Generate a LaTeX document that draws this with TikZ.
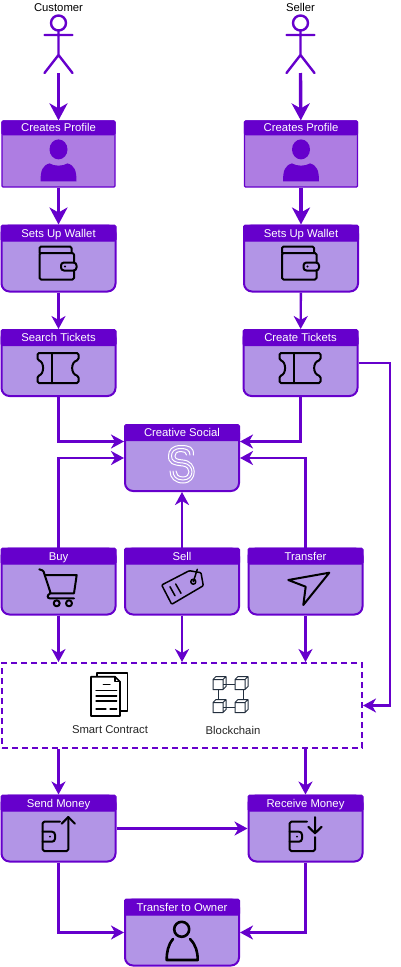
\documentclass[tikz,border=0pt]{standalone}
\usepackage{fontspec}
\setmainfont{Liberation Sans}
\usetikzlibrary{arrows.meta}
\definecolor{flowpurple}{HTML}{6600CC}
\definecolor{cardfill}{HTML}{B295E6}
\definecolor{profilefill}{HTML}{AE7DE2}
\definecolor{cubeline}{HTML}{232F3E}
\tikzset{
  label text/.style={font=\fontsize{11.3}{13}\selectfont},
  cardbox/.style={draw=flowpurple, fill=cardfill, line width=2pt, rounded corners=8pt, minimum width=114pt, minimum height=66pt, inner sep=0pt},
  profilebox/.style={draw=flowpurple, fill=profilefill, line width=1.2pt, rounded corners=1pt, minimum width=113pt, minimum height=66pt, inner sep=0pt},
  cardhead/.style={draw=flowpurple, fill=flowpurple, text=white, line width=1pt, rounded corners=1.5pt, minimum width=115pt, minimum height=16pt, inner sep=0pt, text height=8.5pt, text depth=.5pt, anchor=north, label text},
  profilehead/.style={cardhead, minimum width=113.2pt, minimum height=14pt},
  flow/.style={draw=flowpurple, line width=2.4pt, -{Stealth[length=13pt,width=14pt,inset=4pt]}},
  bigflow/.style={draw=flowpurple, line width=3.4pt, -{Stealth[length=17pt,width=18pt,inset=5pt]}},
  icon/.style={draw=black, line width=2pt, line join=round, line cap=round},
  personicon/.pic={
    \fill[flowpurple] (0,29) ellipse (9 and 10);
    \fill[flowpurple] (-18,61) .. controls (-18,50) and (-16,45) .. (-9,43) .. controls (-4,46) and (4,46) .. (9,43) .. controls (16,45) and (18,50) .. (18,61) -- cycle;
  },
  walleticon/.pic={
    \draw[icon, rounded corners=1.5pt] (15.5,38) -- (15.5,28.5) -- (-19,28.5) -- (-19,55) -- (15.5,55) -- (15.5,46);
    \draw[icon, rounded corners=1.5pt] (-19,28.5) -- (-19,22) -- (13,22) -- (13,28.5);
    \draw[icon, rounded corners=3pt] (2.5,38) rectangle (18,46);
    \fill (6.5,42) circle (1.2);
  },
  ticketicon/.pic={
    \draw[icon, rounded corners=1.5pt] (-21,24) -- (20,24) -- (20,31) .. controls (12,33) and (12,45) .. (20,47) -- (20,54) -- (-21,54) -- (-21,47) .. controls (-14,45) and (-14,33) .. (-21,31) -- cycle;
    \draw[icon] (-7,24) -- (-7,54);
  },
  actoricon/.pic={
    \draw[flowpurple, line width=2.4pt, line cap=round] (0,30.5) -- (0,55) (-14,35) -- (14,35) (-14,73) -- (0,55) -- (14,73);
    \draw[flowpurple, line width=2.4pt] (0,23) circle (7.5);
  },
}
\begin{document}
\begin{tikzpicture}[x=1pt,y=-1pt]
\useasboundingbox (0,0) rectangle (400,967);

% actors
\node[label text] (customer) at (58.5,7.5) {Customer};
\node[label text] (seller) at (300.5,7.5) {Seller};
\pic at (58.5,0) {actoricon};
\pic at (300.5,0) {actoricon};
\coordinate (customerfoot) at (58.5,73);
\coordinate (sellerfoot) at (300.5,73);

% left column
\node[profilebox] (profileA) at (58.5,154) {};
\node[profilehead] (profileAhead) at (profileA.north) {Creates Profile};
\pic at (profileA.north) {personicon};
\node[cardbox] (walletA) at (58.5,258.5) {};
\node[cardhead] (walletAhead) at (walletA.north) {Sets Up Wallet};
\pic at (walletA.north) {walleticon};
\node[cardbox] (search) at (58.5,363) {};
\node[cardhead] (searchhead) at (search.north) {Search Tickets};
\pic at (search.north) {ticketicon};

% right column
\node[profilebox] (profileB) at (301,154) {};
\node[profilehead] (profileBhead) at (profileB.north) {Creates Profile};
\pic at (profileB.north) {personicon};
\node[cardbox] (walletB) at (301,258.5) {};
\node[cardhead] (walletBhead) at (walletB.north) {Sets Up Wallet};
\pic at (walletB.north) {walleticon};
\node[cardbox] (create) at (300.5,363) {};
\node[cardhead] (createhead) at (create.north) {Create Tickets};
\pic at (create.north) {ticketicon};

% platform
\node[cardbox] (social) at (182,458) {};
\node[cardhead] (socialhead) at (social.north) {Creative Social};
\draw[white, line width=1pt, line cap=round]
  (193.5,455) .. controls (194,447) and (189,445.5) .. (181,445.5) .. controls (172,445.5) and (168.5,450) .. (168.5,456) .. controls (168.5,463) and (172,465) .. (183,466) .. controls (191,467) and (191,477) .. (183,477) .. controls (178,477) and (176,474) .. (176,471)
  (190,455) .. controls (190,450) and (186,448.5) .. (181,448.5) .. controls (174,448.5) and (171.5,452) .. (171.5,456) .. controls (171.5,461) and (175,462.5) .. (183,463) .. controls (195,464) and (195,480) .. (183,480) .. controls (176,480) and (173,476) .. (173,471)
  (186.5,455) .. controls (186.5,452.5) and (184,451.5) .. (181,451.5) .. controls (176,451.5) and (175,454) .. (175,456) .. controls (175,459) and (178,459.5) .. (183,460) .. controls (198,461) and (198,483) .. (183,483) .. controls (175,483) and (170,478) .. (170,471);

% actions
\node[cardbox] (buy) at (58.5,581.5) {};
\node[cardhead] (buyhead) at (buy.north) {Buy};
\draw[icon, rounded corners=1pt] (39.3,569.3) -- (43.3,570.7) -- (50.7,593.3) .. controls (47,595) and (47,598.3) .. (50.7,598.3) -- (74,598.3);
\draw[icon] (45,575) -- (76.7,575) -- (74,593.3) -- (50.7,593.3);
\draw[icon] (56.7,603.3) circle (3);
\draw[icon] (69,603.3) circle (3);
\node[cardbox] (sell) at (182,581.5) {};
\node[cardhead] (sellhead) at (sell.north) {Sell};
\draw[icon, line width=1.5pt, rounded corners=1pt] (161.7,585) -- (171.7,604.3) -- (203.3,585.7) -- (201,572.7) -- (189.3,570.7) -- cycle;
\draw[icon, line width=1.5pt] (193.3,581.7) circle (2.5) (193.3,581.7) -- (197.3,569.3);
\draw[icon, line width=1.5pt] (170,586.7) -- (175,595.7) (175.7,584) -- (181,593.3);
\node[cardbox] (transfer) at (305.5,581.5) {};
\node[cardhead] (transferhead) at (transfer.north) {Transfer};
\draw[icon] (288.3,580) -- (329.3,572.7) -- (303.3,605) -- (305.7,586.7) -- cycle;

% contract and chain
\node[draw=flowpurple, fill=white, dash pattern=on 6pt off 4pt, line width=2pt, minimum width=360pt, minimum height=85pt, inner sep=0pt] (chain) at (182,705.5) {};
\draw[icon, line width=1.6pt, fill=white] (96.7,676.7) -- (96.7,672.7) -- (127.3,672.7) -- (127.3,710.7) -- (120,710.7);
\draw[icon, line width=1.6pt, fill=white] (91,676.7) -- (115,676.7) -- (120,681.7) -- (120,716) -- (91,716) -- cycle;
\draw[icon, line width=1.2pt] (115,676.7) -- (115,681.7) -- (120,681.7);
\draw[icon, line width=1.2pt] (103.3,684.3) -- (110,684.3) (96,690.7) -- (116.7,690.7) (96,696) -- (116.7,696) (96,701) -- (116.7,701) (96,709) -- (106,709) (110,709) -- (116.7,709);
\node[label text, text=black!85] (contract) at (110,730) {Smart Contract};
\foreach \cubex/\cubey in {213/676.5,235/676.5,213/699.5,235/699.5}{
  \draw[cubeline, line width=1pt, line join=round, shift={(\cubex,\cubey)}] (0,3) rectangle (10,13) (0,3) -- (3,0) -- (13,0) -- (13,10) -- (10,13) (10,3) -- (13,0);
}
\draw[cubeline, line width=1pt] (223,684) -- (235,684) (223,707) -- (235,707) (218,689.5) -- (218,699.5) (243,689.5) -- (243,699.5);
\node[label text, text=black!85] (blockchain) at (233,730) {Blockchain};

% payment
\node[cardbox] (send) at (58.5,828.5) {};
\node[cardhead] (sendhead) at (send.north) {Send Money};
\draw[icon, rounded corners=1.5pt] (60,821.7) -- (42.7,821.7) -- (42.7,851) -- (68.3,851) -- (68.3,817);
\draw[icon] (61.7,823.7) -- (68.3,817) -- (75,823.7);
\draw[icon, rounded corners=3pt] (42.7,831.7) -- (55,831.7) -- (55,841.7) -- (42.7,841.7);
\fill (50,836.7) circle (1);
\node[cardbox] (receive) at (305.5,828.5) {};
\node[cardhead] (receivehead) at (receive.north) {Receive Money};
\draw[icon, rounded corners=1.5pt] (307,821.7) -- (289.7,821.7) -- (289.7,851) -- (315,851) -- (315,837);
\draw[icon] (315,817) -- (315,833.3) (308.3,826.7) -- (315,833.3) -- (321.7,826.7);
\draw[icon, rounded corners=3pt] (289.7,831.7) -- (302,831.7) -- (302,841.7) -- (289.7,841.7);
\fill (297,836.7) circle (1);
\node[cardbox] (owner) at (182,932.5) {};
\node[cardhead] (ownerhead) at (owner.north) {Transfer to Owner};
\draw[icon, line width=2.6pt] (181.7,929.3) circle (7.5);
\draw[icon, line width=2.6pt] (173,939) .. controls (168,945) and (166.7,952) .. (166.7,960) -- (197.7,960) .. controls (197.7,952) and (196,945) .. (190,939);

% connectors
\coordinate (socialsearch) at (social.north west |- 0,441.5);
\coordinate (socialbuy) at (social.north west |- 0,458);
\coordinate (socialcreate) at (social.north east |- 0,441.5);
\coordinate (socialtransfer) at (social.north east |- 0,458);
\coordinate (railtop) at (390,363);

\draw[bigflow] (customerfoot) -- (profileA);
\draw[bigflow] (sellerfoot) -- (profileB);
\draw[bigflow] (profileA) -- (walletA);
\draw[bigflow] (profileB) -- (walletB);
\draw[flow] (walletA) -- (search);
\draw[flow] (walletB) -- (create);

\draw[flow] (search) |- (socialsearch);
\draw[flow] (create) |- (socialcreate);
\draw[flow] (buy) |- (socialbuy);
\draw[flow] (transfer) |- (socialtransfer);
\draw[flow] (sell) -- (social);

\draw[flow] (buy) -- (buy |- chain.north);
\draw[flow] (sell) -- (sell |- chain.north);
\draw[flow] (transfer) -- (transfer |- chain.north);
\draw[flow] (create.east) -- (railtop) |- (chain.east);

\draw[flow] (send |- chain.south) -- (send);
\draw[flow] (receive |- chain.south) -- (receive);
\draw[flow] (send) -- (receive);
\draw[flow] (send) |- (owner);
\draw[flow] (receive) |- (owner);
\end{tikzpicture}
\end{document}
